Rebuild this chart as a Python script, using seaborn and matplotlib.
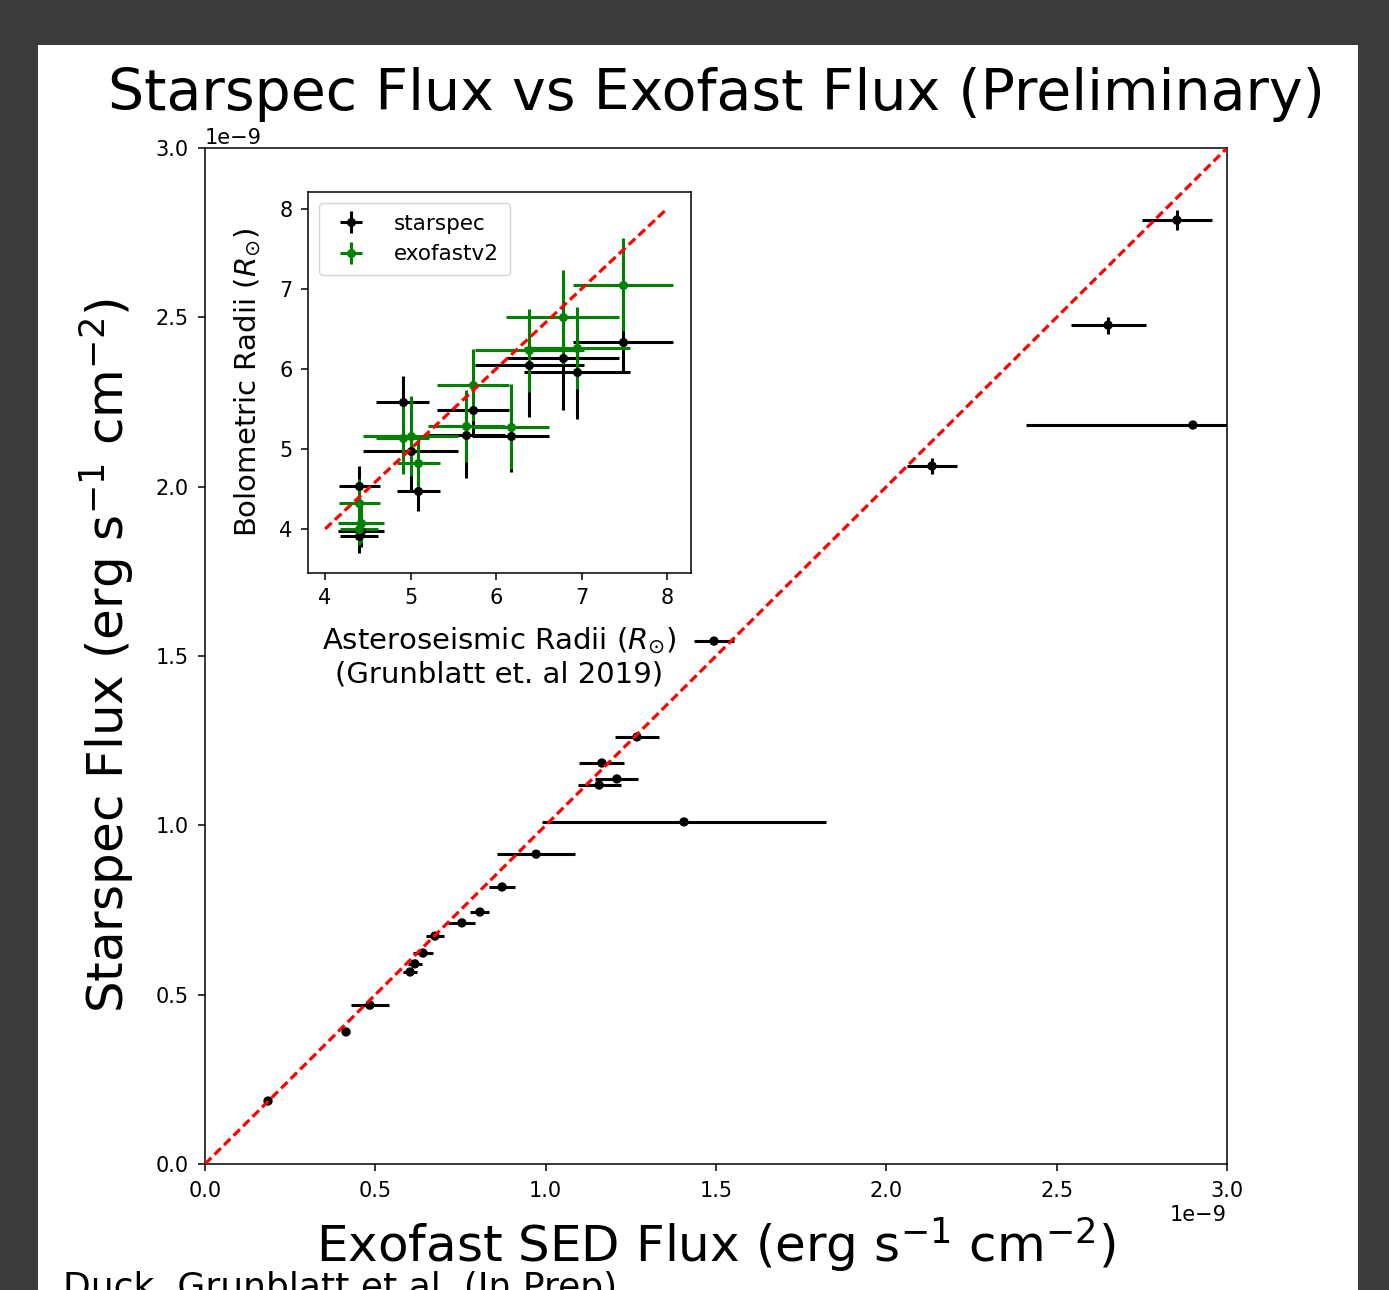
import numpy as np
import pandas as pd
import matplotlib
matplotlib.use("Agg")
import matplotlib.pyplot as plt
from matplotlib.patches import Rectangle
import seaborn as sns

# ---------------- data (main panel, units of 1e-9 erg s^-1 cm^-2) ----------------
exofast_flux = [0.185, 0.414, 0.484, 0.602, 0.616, 0.640, 0.675, 0.754, 0.807, 0.872,
                0.972, 1.406, 1.157, 1.209, 1.165, 1.268, 1.494, 2.134, 2.900, 2.651, 2.853]
exofast_flux_err = [0.0, 0.0, 0.056, 0.02, 0.02, 0.028, 0.027, 0.040, 0.028, 0.038,
                    0.115, 0.417, 0.063, 0.063, 0.066, 0.065, 0.060, 0.073, 0.490, 0.110, 0.103]
starspec_flux = [0.186, 0.390, 0.469, 0.567, 0.591, 0.623, 0.673, 0.712, 0.744, 0.818,
                 0.915, 1.010, 1.119, 1.137, 1.184, 1.261, 1.544, 2.061, 2.182, 2.477, 2.787]
starspec_flux_err = [0.0, 0.0, 0.0, 0.0, 0.0, 0.0, 0.0, 0.0, 0.0, 0.0,
                     0.0, 0.0, 0.0, 0.0, 0.0, 0.0, 0.0, 0.025, 0.0, 0.025, 0.030]
flux_scale = 1e-9
one_to_one_flux = [0.0, 3.0]

# ---------------- data (inset, solar radii) ----------------
astero_radii = [7.49, 6.78, 6.39, 6.95, 5.73, 5.65, 6.17, 4.91, 5.00, 5.09, 4.40, 4.42, 4.40]
astero_radii_err = [0.585, 0.66, 0.64, 0.62, 0.42, 0.45, 0.45, 0.31, 0.56, 0.25, 0.24, 0.27, 0.22]
starspec_radii = [6.33, 6.13, 6.05, 5.96, 5.49, 5.18, 5.16, 5.59, 4.98, 4.48, 4.54, 3.98, 3.91]
starspec_radii_err = [0.36, 0.64, 0.65, 0.59, 0.30, 0.54, 0.45, 0.32, 0.50, 0.25, 0.25, 0.20, 0.21]
exofast_radii = [7.05, 6.65, 6.23, 6.26, 5.80, 5.29, 5.28, 5.14, 5.16, 4.83, 4.33, 4.08, 4.00]
exofast_radii_err = [0.58, 0.59, 0.52, 0.51, 0.45, 0.45, 0.53, 0.45, 0.50, 0.30, 0.30, 0.25, 0.20]
one_to_one_radii = [4.0, 8.0]

title = "Starspec Flux vs Exofast Flux (Preliminary)"
xlabel = r"Exofast SED Flux (erg s$^{-1}$ cm$^{-2}$)"
ylabel = r"Starspec Flux (erg s$^{-1}$ cm$^{-2}$)"
inset_xlabel = "Asteroseismic Radii ($R_{\\odot}$)\n(Grunblatt et. al 2019)"
inset_ylabel = r"Bolometric Radii ($R_{\odot}$)"
credit = "Duck, Grunblatt et al. (In Prep)"

# ---------------- style ----------------
sns.set_style("ticks", rc={"axes.edgecolor": "black", "xtick.color": "black",
                           "ytick.color": "black", "text.color": "black",
                           "axes.labelcolor": "black"})
plt.rcParams["font.family"] = ["DejaVu Sans"]
plt.rcParams["axes.linewidth"] = 1.1
plt.rcParams["xtick.direction"] = "out"
plt.rcParams["ytick.direction"] = "out"

W, H = 1389, 1290
fig = plt.figure(figsize=(W / 100, H / 100), dpi=100, facecolor="#3b3b3b")
fig.patches.append(Rectangle((38 / W, 0), 1320 / W, 1 - 45 / H, transform=fig.transFigure,
                             facecolor="white", edgecolor="none", zorder=-5))

# ---------------- main panel ----------------
ax = fig.add_axes([205 / W, 1 - 1164 / H, (1227 - 205) / W, (1164 - 148) / H])
main_df = pd.DataFrame({
    "exofast": np.array(exofast_flux) * flux_scale,
    "starspec": np.array(starspec_flux) * flux_scale,
})
ax.errorbar(main_df["exofast"], main_df["starspec"],
            xerr=np.array(exofast_flux_err) * flux_scale,
            yerr=np.array(starspec_flux_err) * flux_scale,
            fmt="none", ecolor="black", elinewidth=2.2, capsize=0, zorder=3)
sns.scatterplot(data=main_df, x="exofast", y="starspec", ax=ax, color="black",
                s=45, edgecolor="none", zorder=4, legend=False)
line_df = pd.DataFrame({"x": np.array(one_to_one_flux) * flux_scale,
                        "y": np.array(one_to_one_flux) * flux_scale})
ax.plot(line_df["x"], line_df["y"], color="red", lw=2.3, dashes=(2.8, 1.4), zorder=5)
ax.set_xlim(0, 3e-9)
ax.set_ylim(0, 3e-9)
ax.set_xticks(np.arange(0, 3.01, 0.5) * flux_scale)
ax.set_yticks(np.arange(0, 3.01, 0.5) * flux_scale)
ax.tick_params(labelsize=15, length=5, width=1.1)
ax.tick_params(axis="x", pad=7)
ax.tick_params(axis="y", pad=7)
ax.xaxis.get_offset_text().set_fontsize(15)
ax.yaxis.get_offset_text().set_fontsize(15)
ax.set_xlabel(xlabel, fontsize=36, labelpad=10)
ax.set_ylabel(ylabel, fontsize=36, labelpad=14)
for s in ax.spines.values():
    s.set_visible(True)
    s.set_color("black")

fig.text(716 / W, 1 - 110 / H, title, fontsize=41, ha="center", va="baseline")
fig.text(63 / W, 1 - 1298 / H, credit, fontsize=26, ha="left", va="baseline")

# ---------------- inset ----------------
axi = fig.add_axes([308 / W, 1 - 573 / H, (691 - 308) / W, (573 - 192) / H])
axi.set_facecolor("white")
axi.errorbar(astero_radii, starspec_radii, xerr=astero_radii_err, yerr=starspec_radii_err,
             fmt="o", color="black", ms=5.5, elinewidth=2.2, capsize=0, label="starspec",
             zorder=3)
axi.errorbar(astero_radii, exofast_radii, xerr=astero_radii_err, yerr=exofast_radii_err,
             fmt="o", color="green", ms=5.5, elinewidth=2.2, capsize=0, label="exofastv2",
             zorder=3)
axi.plot(one_to_one_radii, one_to_one_radii, color="red", lw=2.3, dashes=(2.8, 1.4), zorder=5)
axi.set_xlim(3.80, 8.28)
axi.set_ylim(3.45, 8.21)
axi.set_xticks([4, 5, 6, 7, 8])
axi.set_yticks([4, 5, 6, 7, 8])
axi.tick_params(labelsize=15, length=5, width=1.1, pad=6)
axi.set_xlabel(inset_xlabel, fontsize=21, labelpad=12)
axi.set_ylabel(inset_ylabel, fontsize=21, labelpad=12)
for s in axi.spines.values():
    s.set_visible(True)
    s.set_color("black")
axi.legend(loc="upper left", fontsize=15.5, handlelength=2.0, handletextpad=1.0,
           borderpad=0.5, labelspacing=0.5)

fig.savefig("out.png", dpi=100, facecolor=fig.get_facecolor())
